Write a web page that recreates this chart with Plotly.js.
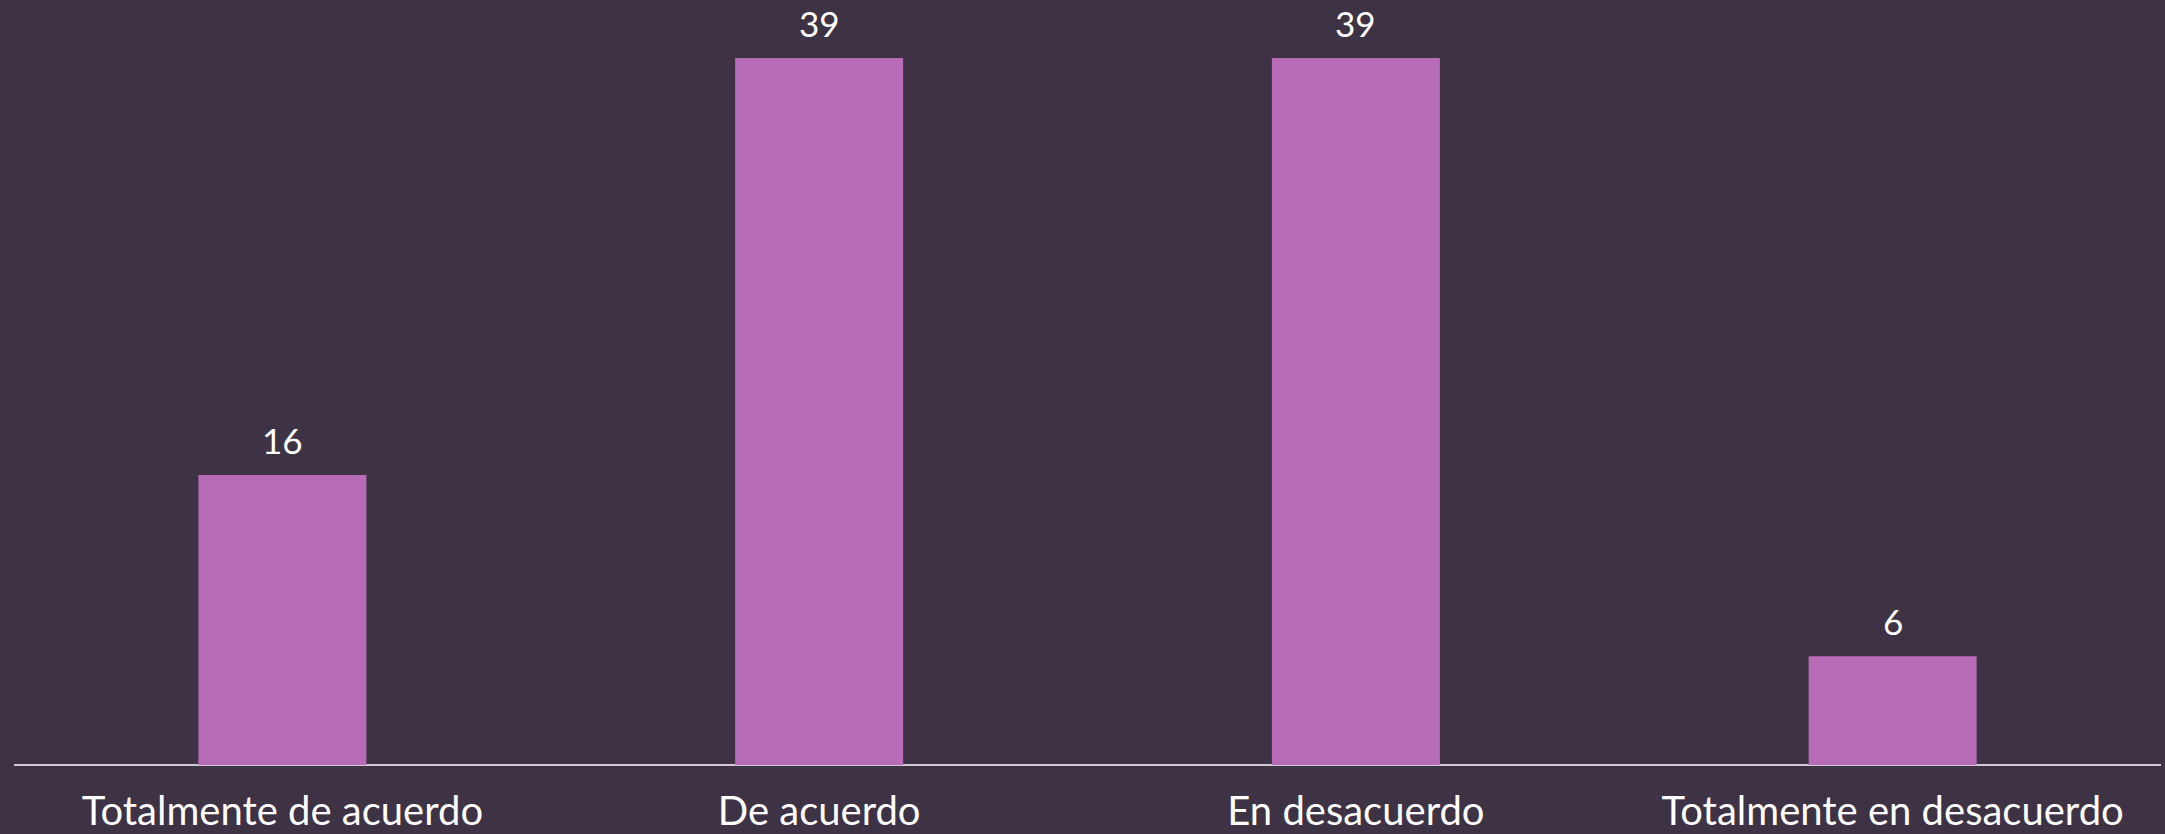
<!DOCTYPE html>
<html><head><meta charset="utf-8">
<script src="https://cdn.plot.ly/plotly-3.0.1.min.js"></script>
<style>html,body{margin:0;padding:0;background:#3E3245;}</style>
</head><body>
<div id="chart" style="width:2165px;height:834px;"></div>
<script>
const categories = ["Totalmente de acuerdo", "De acuerdo", "En desacuerdo", "Totalmente en desacuerdo"];
const values = [16, 39, 39, 6];

const trace = {
  type: 'bar', x: categories, y: values,
  marker: {color: '#B86BB6'},
  hoverinfo: 'none'
};
const annotations = categories.map((c, i) => ({
  x: c, y: values[i], xref: 'x', yref: 'y', text: String(values[i]),
  showarrow: false, yanchor: 'bottom', yshift: 12,
  font: {family: 'Lato, sans-serif', size: 35, color: '#FFFFFF'}
}));
const layout = {
  width: 2165, height: 834,
  paper_bgcolor: '#3E3245', plot_bgcolor: '#3E3245',
  margin: {l: 14, r: 4, t: 58, b: 69},
  bargap: 0.687,
  showlegend: false,
  xaxis: {
    showgrid: false, zeroline: false, showline: false, ticks: '',
    ticklabelstandoff: 19,
    tickfont: {family: 'Lato, sans-serif', size: 40, color: '#FFFFFF'},
    fixedrange: true
  },
  yaxis: {
    range: [0, 39], visible: true, showgrid: false, showticklabels: false,
    zeroline: true, zerolinecolor: '#CFC9D1', zerolinewidth: 2,
    showline: false, ticks: '', fixedrange: true
  },
  annotations: annotations
};
Plotly.newPlot('chart', [trace], layout, {displayModeBar: false, staticPlot: true});
</script>
</body></html>
